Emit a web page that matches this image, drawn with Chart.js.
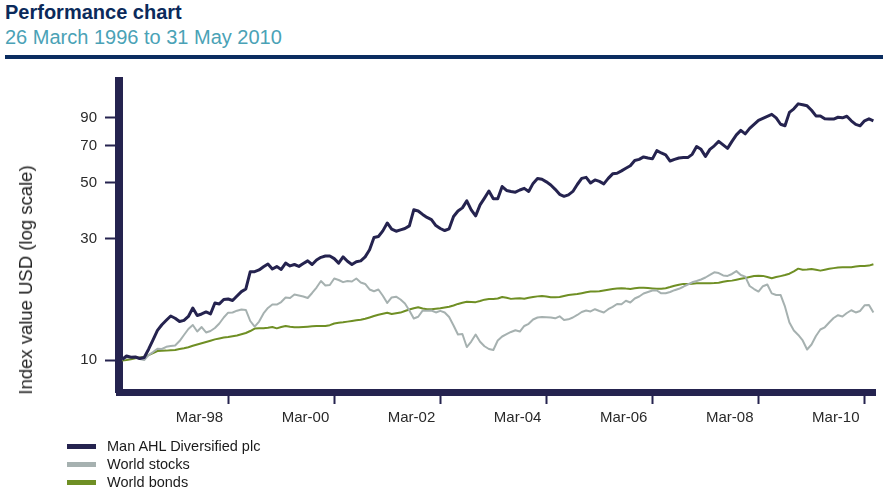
<!DOCTYPE html>
<html>
<head>
<meta charset="utf-8">
<title>Performance chart</title>
<script src="https://cdn.jsdelivr.net/npm/chart.js@4/dist/chart.umd.min.js"></script>
<style>
  html, body { margin: 0; padding: 0; background: #fff; }
  body { width: 883px; height: 501px; position: relative; overflow: hidden;
         font-family: "Liberation Sans", Arial, Helvetica, sans-serif; }
  #wrap { position: absolute; left: 0; top: 0; width: 883px; height: 501px; }
  .title { position: absolute; left: 5px; top: 2px; font-size: 20px; line-height: 20px;
           font-weight: bold; color: #0b2a5b; white-space: nowrap; }
  .subtitle { position: absolute; left: 5px; top: 27px; font-size: 20px; line-height: 20px;
              color: #4aa2b6; white-space: nowrap; }
  .rule { position: absolute; left: 5px; right: 0; top: 55px; height: 4px; background: #0b2d60; }
  .ylabel { position: absolute; left: 26px; top: 280px; font-size: 18.5px; color: #222;
            white-space: nowrap; transform: translate(-50%, -50%) rotate(-90deg); }
  .legend { position: absolute; left: 67px; top: 437px; }
  .legend .item { position: relative; height: 18px; }
  .legend .swatch { position: absolute; left: 0; top: 7px; width: 29px; height: 5px; }
  .legend .label { position: absolute; left: 40px; top: 0; font-size: 14.5px; line-height: 18px;
                   color: #1a1a1a; white-space: nowrap; }
</style>
</head>
<body>
<div class="title">Performance chart</div>
<div class="subtitle">26 March 1996 to 31 May 2010</div>
<div class="rule"></div>
<div id="wrap"><canvas id="perf" width="883" height="501"></canvas></div>
<div class="ylabel">Index value USD (log scale)</div>
<div class="legend" id="legend"></div>

<script>
// monthly index values, month 0 = March 1996, last = May 2010
const ahl = [10.05,10.37,10.25,10.28,10.14,10.23,11.03,12.00,13.09,13.77,
  14.34,14.91,14.61,14.18,14.33,14.85,16.04,14.98,15.19,15.47,
  15.19,16.79,16.64,17.32,17.40,17.17,17.88,18.6,19.06,22.3,
  22.3,22.65,23.3,23.9,22.85,23.35,22.75,24.1,23.5,23.8,
  23.4,24.0,24.6,23.8,24.8,25.4,25.7,25.7,25.1,24.1,
  25.5,24.5,23.8,24.4,24.6,25.5,27.2,30.4,30.7,32.3,
  34.7,32.8,32.2,32.6,33.0,33.8,39.1,38.7,37.5,36.5,
  35.8,33.9,33.0,32.4,32.9,36.8,38.7,39.8,42.4,39.1,
  37.0,40.9,43.5,46.4,43.2,43.2,48.3,46.6,46.2,45.9,
  46.8,47.5,46.2,49.7,52.0,51.6,50.4,49.0,47.1,45.0,
  44.2,44.8,46.2,49.2,52.0,52.5,49.9,51.3,50.6,49.5,
  52.0,54.2,54.5,55.7,57.0,58.3,61.2,61.8,63.2,62.6,
  62.1,66.9,65.5,64.4,60.9,61.8,62.6,62.8,62.8,64.7,
  69.5,67.7,63.5,67.7,69.9,72.8,70.5,68.3,72.8,77.2,
  80.4,77.9,81.9,84.9,88.1,89.7,91.4,93.0,90.1,85.0,
  83.9,94.7,97.8,102.3,101.4,100.5,96.5,91.7,91.7,89.3,
  89.1,89.1,90.6,90.1,91.4,87.7,84.9,83.8,87.7,89.3,
  87.7];

const stocks = [10.05,10.23,10.28,10.28,10.09,10.0,10.46,10.75,11.08,11.05,
  11.27,11.35,11.41,11.88,12.55,13.25,13.74,12.95,13.49,12.84,
  13.01,13.37,13.93,14.71,15.37,15.40,15.65,15.82,15.75,14.25,
  13.55,14.18,15.26,16.04,16.55,16.55,16.93,17.64,17.56,18.13,
  17.97,17.80,17.56,18.38,19.31,20.49,19.67,19.76,20.96,20.68,
  20.28,20.49,20.40,20.96,20.22,19.94,18.97,18.67,18.97,17.92,
  16.78,17.64,17.77,17.32,16.71,15.68,14.58,14.81,15.65,15.65,
  15.68,15.40,15.63,15.40,14.78,13.68,12.60,12.66,11.25,11.83,
  12.60,11.81,11.33,11.05,10.95,11.94,12.38,12.64,12.90,13.10,
  12.95,13.62,13.89,14.45,14.71,14.78,14.74,14.71,14.60,14.87,
  14.38,14.47,14.71,15.05,15.47,15.68,15.54,15.86,15.61,15.40,
  15.86,16.19,16.63,16.60,17.13,16.85,17.48,17.80,18.29,18.54,
  18.80,18.80,18.32,18.32,18.54,18.85,19.09,19.45,19.85,20.25,
  20.49,20.77,21.15,21.64,22.17,22.03,21.54,21.45,21.84,22.41,
  21.64,21.33,19.58,19.05,18.62,19.54,19.85,18.32,18.05,18.05,
  16.23,14.06,13.07,12.55,11.94,11.00,11.51,12.44,13.19,13.46,
  14.06,14.64,15.02,14.85,15.32,15.71,15.40,15.61,16.43,16.48,
  15.40];

const bonds = [9.95,10.0,10.07,10.15,10.23,10.29,10.46,10.66,10.85,10.88,
  10.89,10.93,10.95,11.05,11.13,11.23,11.38,11.52,11.65,11.78,
  11.92,12.06,12.16,12.26,12.32,12.40,12.49,12.63,12.78,13.01,
  13.31,13.33,13.35,13.41,13.49,13.33,13.49,13.62,13.52,13.46,
  13.46,13.49,13.53,13.58,13.62,13.62,13.62,13.72,13.93,14.02,
  14.08,14.17,14.26,14.34,14.42,14.54,14.72,14.91,15.09,15.23,
  15.35,15.18,15.28,15.38,15.61,15.82,16.00,16.14,15.97,15.86,
  15.85,15.92,16.00,16.11,16.22,16.41,16.64,16.82,16.98,16.94,
  16.91,17.09,17.30,17.39,17.40,17.47,17.72,17.60,17.42,17.48,
  17.53,17.43,17.60,17.72,17.82,17.89,17.80,17.67,17.67,17.72,
  17.89,18.05,18.12,18.20,18.34,18.49,18.61,18.61,18.66,18.80,
  18.93,19.05,19.12,19.19,19.12,19.07,19.19,19.28,19.26,19.21,
  19.16,19.09,19.11,19.18,19.39,19.63,19.82,19.96,19.96,20.00,
  20.07,20.08,20.08,20.08,20.10,20.18,20.36,20.47,20.56,20.73,
  20.90,21.07,21.25,21.42,21.50,21.46,21.25,21.02,21.23,21.42,
  21.63,21.89,22.37,22.92,22.69,22.75,22.86,22.69,22.51,22.71,
  22.88,23.03,23.16,23.20,23.22,23.22,23.35,23.47,23.50,23.56,
  23.84];

const seriesNames = ['Man AHL Diversified plc', 'World stocks', 'World bonds'];
const seriesColors = ['#25234f', '#a6b1b0', '#6f8f24'];
const seriesWidths = [3, 2, 2];

// x axis ticks: months since Mar-96
const xTickMonths = [24, 48, 72, 96, 120, 144, 168];
const xTickLabels = ['Mar-98', 'Mar-00', 'Mar-02', 'Mar-04', 'Mar-06', 'Mar-08', 'Mar-10'];
const yTicks = [10, 30, 50, 70, 90];

const months = ahl.map((v, i) => i);
const axisColor = '#25234f';
const textColor = '#2a2a2a';

// legend (html, stacked under the chart)
const legendBox = document.getElementById('legend');
seriesNames.forEach((name, i) => {
  const item = document.createElement('div');
  item.className = 'item';
  item.innerHTML = '<div class="swatch" style="background:' + seriesColors[i] + '"></div>' +
                   '<div class="label">' + name + '</div>';
  legendBox.appendChild(item);
});

const allSeries = [ahl, stocks, bonds];

new Chart(document.getElementById('perf'), {
  type: 'line',
  data: {
    labels: months,
    datasets: allSeries.map((values, i) => ({
      label: seriesNames[i],
      data: values,
      borderColor: seriesColors[i],
      borderWidth: seriesWidths[i],
      pointRadius: 0,
      tension: 0,
      borderJoinStyle: 'round',
      fill: false
    }))
  },
  options: {
    responsive: false,
    animation: false,
    events: [],
    layout: {
      autoPadding: false,
      padding: { top: 81, right: 7.4, bottom: 49, left: 0 }
    },
    plugins: {
      legend: { display: false },
      tooltip: { enabled: false }
    },
    scales: {
      x: {
        type: 'linear',
        min: -0.7,
        max: 170.5,
        afterFit: (scale) => { scale.height = 60; },
        afterBuildTicks: (axis) => { axis.ticks = xTickMonths.map(v => ({ value: v })); },
        border: { display: true, color: axisColor, width: 7 },
        grid: { display: true, drawOnChartArea: false, drawTicks: true,
                tickLength: 12, tickWidth: 2, tickColor: axisColor },
        ticks: {
          align: 'end',
          labelOffset: -5,
          maxRotation: 0,
          autoSkip: false,
          padding: 5,
          color: textColor,
          font: { family: '"Liberation Sans", Arial, sans-serif', size: 15 },
          callback: (value) => {
            const k = xTickMonths.indexOf(value);
            return k >= 0 ? xTickLabels[k] : '';
          }
        }
      },
      y: {
        type: 'logarithmic',
        min: 7.48,
        max: 125.9,
        afterFit: (scale) => { scale.width = 119; },
        afterBuildTicks: (axis) => { axis.ticks = yTicks.map(v => ({ value: v })); },
        border: { display: true, color: axisColor, width: 8 },
        grid: { display: true, drawOnChartArea: false, drawTicks: true,
                tickLength: 14, tickWidth: 2, tickColor: axisColor },
        ticks: {
          padding: 8,
          autoSkip: false,
          color: textColor,
          font: { family: '"Liberation Sans", Arial, sans-serif', size: 15 },
          callback: (value) => String(value)
        }
      }
    }
  }
});
</script>
</body>
</html>
